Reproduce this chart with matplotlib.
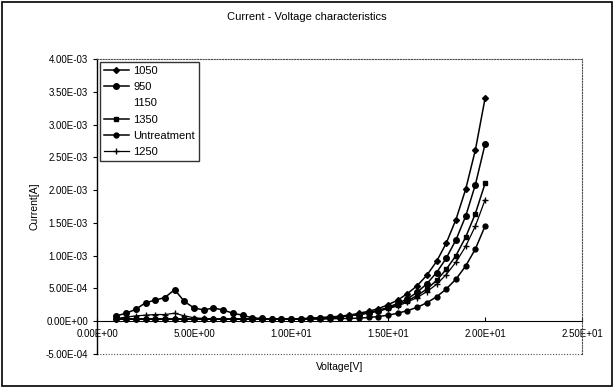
import numpy as np
import matplotlib.pyplot as plt
from matplotlib.ticker import FuncFormatter

plt.rcParams['font.family'] = ['Liberation Sans', 'DejaVu Sans']

# Tensão aplicada [V]
volt = [1.0, 1.5, 2.0, 2.5, 3.0, 3.5, 4.0, 4.5, 5.0, 5.5, 6.0, 6.5, 7.0, 7.5,
        8.0, 8.5, 9.0, 9.5, 10.0, 10.5, 11.0, 11.5, 12.0, 12.5, 13.0, 13.5,
        14.0, 14.5, 15.0, 15.5, 16.0, 16.5, 17.0, 17.5, 18.0, 18.5, 19.0,
        19.5, 20.0]

# Correntes em mA
i_1050 = [0.03, 0.03, 0.03, 0.03, 0.03, 0.03, 0.03, 0.03, 0.03, 0.03, 0.03,
          0.03, 0.03, 0.03, 0.03, 0.03, 0.03, 0.03, 0.03, 0.035, 0.04, 0.05,
          0.06, 0.075, 0.09, 0.12, 0.15, 0.19, 0.25, 0.32, 0.42, 0.54, 0.70,
          0.91, 1.19, 1.55, 2.01, 2.61, 3.40]
i_950 = [0.08, 0.12, 0.18, 0.28, 0.32, 0.36, 0.48, 0.30, 0.20, 0.17, 0.20,
         0.17, 0.12, 0.09, 0.05, 0.04, 0.03, 0.03, 0.03, 0.035, 0.04, 0.05,
         0.055, 0.065, 0.08, 0.10, 0.13, 0.16, 0.21, 0.27, 0.34, 0.44, 0.57,
         0.74, 0.96, 1.24, 1.60, 2.08, 2.70]
i_1150 = [0.03, 0.03, 0.03, 0.03, 0.03, 0.03, 0.03, 0.03, 0.03, 0.03, 0.03,
          0.03, 0.03, 0.03, 0.03, 0.03, 0.03, 0.03, 0.03, 0.035, 0.04, 0.045,
          0.055, 0.07, 0.085, 0.11, 0.14, 0.18, 0.23, 0.29, 0.37, 0.47, 0.59,
          0.75, 0.95, 1.20, 1.52, 1.93, 2.45]
i_1350 = [0.03, 0.03, 0.03, 0.03, 0.03, 0.03, 0.03, 0.03, 0.03, 0.03, 0.03,
          0.03, 0.03, 0.03, 0.03, 0.03, 0.03, 0.03, 0.03, 0.035, 0.04, 0.05,
          0.06, 0.07, 0.085, 0.10, 0.13, 0.16, 0.20, 0.25, 0.31, 0.39, 0.49,
          0.62, 0.79, 1.00, 1.28, 1.64, 2.10]
i_untr = [0.03, 0.03, 0.03, 0.03, 0.03, 0.03, 0.03, 0.03, 0.03, 0.03, 0.03,
          0.03, 0.03, 0.03, 0.03, 0.03, 0.03, 0.03, 0.03, 0.03, 0.03, 0.03,
          0.035, 0.04, 0.04, 0.045, 0.055, 0.07, 0.09, 0.12, 0.16, 0.21, 0.28,
          0.37, 0.49, 0.64, 0.84, 1.10, 1.45]
i_1250 = [0.04, 0.06, 0.08, 0.09, 0.10, 0.10, 0.12, 0.08, 0.05, 0.04, 0.03,
          0.03, 0.03, 0.03, 0.03, 0.03, 0.03, 0.03, 0.03, 0.035, 0.04, 0.045,
          0.055, 0.065, 0.08, 0.10, 0.12, 0.15, 0.19, 0.23, 0.29, 0.36, 0.45,
          0.56, 0.71, 0.90, 1.14, 1.45, 1.85]

fig = plt.figure(figsize=(6.14, 3.88), dpi=100)
ax = fig.add_axes([0.158, 0.088, 0.790, 0.760])

v = np.array(volt)
ax.plot(v, np.array(i_1050) * 1e-3, color='black', lw=1.1, marker='D', ms=3, label='1050', zorder=3)
ax.plot(v, np.array(i_950) * 1e-3, color='black', lw=1.1, marker='o', ms=4, label='950', zorder=3)
ax.plot(v, np.array(i_1150) * 1e-3, color='white', lw=0.5, label='1150', zorder=1)
ax.plot(v, np.array(i_1350) * 1e-3, color='black', lw=1.1, marker='s', ms=3, label='1350', zorder=3)
ax.plot(v, np.array(i_untr) * 1e-3, color='black', lw=1.1, marker='o', ms=3.5, label='Untreatment', zorder=3)
ax.plot(v, np.array(i_1250) * 1e-3, color='black', lw=0.9, marker='+', ms=5, label='1250', zorder=3)

ax.set_xlim(0, 25)
ax.set_ylim(-5e-4, 4e-3)
ax.set_xticks([0, 5, 10, 15, 20, 25])
ax.set_yticks(np.arange(-5e-4, 4.01e-3, 5e-4))
fmt = FuncFormatter(lambda val, pos: f'{val:.2E}')
ax.xaxis.set_major_formatter(fmt)
ax.yaxis.set_major_formatter(fmt)
ax.tick_params(labelsize=7, length=3, width=0.8)
ax.tick_params(axis='x', direction='in', pad=6)

# eixo x cruzando em zero (estilo Excel)
ax.spines['bottom'].set_position(('data', 0))
ax.spines['left'].set_linewidth(1)
for s in ['top', 'right']:
    ax.spines[s].set_linestyle((0, (1, 1.5)))
    ax.spines[s].set_color('0.3')
    ax.spines[s].set_linewidth(0.8)
ax.axhline(-5e-4, color='0.3', lw=0.8, ls=(0, (1, 1.5)), clip_on=False)

ax.set_xlabel('Voltage[V]', fontsize=7.5, labelpad=16)
ax.set_ylabel('Current[A]', fontsize=7.5, labelpad=4)
fig.text(0.5, 0.955, 'Current - Voltage characteristics', ha='center', va='center', fontsize=8)

leg = ax.legend(loc='upper left', fontsize=8, frameon=True, fancybox=False,
                borderaxespad=0.3, handlelength=2.2, labelspacing=0.55,
                borderpad=0.35, handletextpad=0.4)
leg.get_frame().set_edgecolor('black')
leg.get_frame().set_linewidth(1)

# moldura externa
fig.patches.append(plt.Rectangle((0.004, 0.004), 0.992, 0.992, transform=fig.transFigure,
                                 fill=False, edgecolor='black', lw=1.2))

plt.savefig('out.png', dpi=100)
